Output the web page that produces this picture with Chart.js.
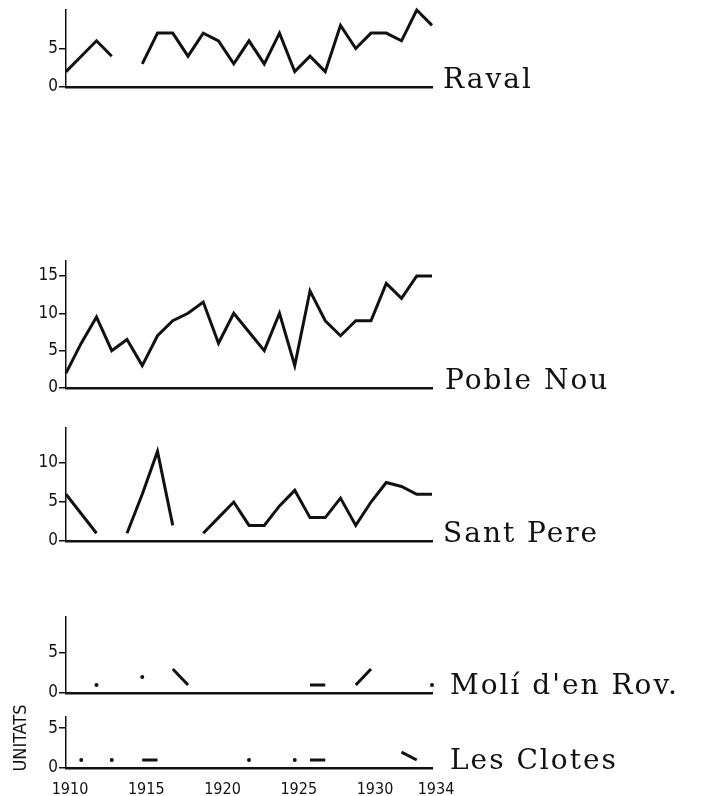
<!DOCTYPE html>
<html>
<head>
<meta charset="utf-8">
<script src="https://cdn.jsdelivr.net/npm/chart.js@4.4.1/dist/chart.umd.min.js"></script>
<style>
  body { margin: 0; background: #fff; width: 705px; height: 796px; position: relative; overflow: hidden; }
  canvas { position: absolute; left: 0; }
</style>
</head>
<body>
<canvas id="raval"></canvas>
<canvas id="poble"></canvas>
<canvas id="sant"></canvas>
<canvas id="moli"></canvas>
<canvas id="clotes"></canvas>
<script>
// yearly counts per district, 1910-1934 (null = no data)
var years = [1910, 1911, 1912, 1913, 1914, 1915, 1916, 1917, 1918, 1919, 1920, 1921, 1922,
             1923, 1924, 1925, 1926, 1927, 1928, 1929, 1930, 1931, 1932, 1933, 1934];

var raval    = [2, 4, 6, 4, null, 3, 7, 7, 4, 7, 6, 3, 6, 3, 7, 2, 4, 2, 8, 5, 7, 7, 6, 10, 8];
var pobleNou = [2, 6, 9.5, 5, 6.5, 3, 7, 9, 10, 11.5, 6, 10, 7.5, 5, 10, 3, 13, 9, 7, 9, 9, 14, 12, 15, 15];
var santPere = [6, 3.5, 1, null, 1, 6, 11.5, 2, null, 1, 3, 5, 2, 2, 4.5, 6.5, 3, 3, 5.5, 2, 5, 7.5, 7, 6, 6];
var moli     = [null, null, 1, null, null, 2, null, 3, 1, null, null, null, null, null, null, null,
                1, 1, null, 1, 3, null, null, null, 1];
// Les Clotes: runs of years drawn as lines, single years drawn as dots
var clotes     = [null, null, null, null, null, 1, 1, null, null, null, null, null, null, null, null, null,
                  1, 1, null, null, null, null, 2, 1, null];
var clotesDots = [null, 1, null, 1, null, null, null, null, null, null, null, null, 1, null, null, 1,
                  null, null, null, null, null, null, null, null, null];

var yearTicks   = [1910, 1915, 1920, 1925, 1930, 1934];
var ravalTicks  = [0, 5];
var pobleTicks  = [0, 5, 10, 15];
var santTicks   = [0, 5, 10];
var moliTicks   = [0, 5];
var clotesTicks = [0, 5];

var axisFont = "'Liberation Sans Narrow', 'DejaVu Sans Condensed', sans-serif";

// district name written at the end of each baseline
var nameLabel = {
  id: 'nameLabel',
  afterDraw: function(chart, args, opts) {
    var ctx = chart.ctx, a = chart.chartArea;
    ctx.save();
    ctx.font = '28px "DejaVu Serif"';
    ctx.letterSpacing = '2px';
    ctx.fillStyle = '#111';
    ctx.textBaseline = 'alphabetic';
    ctx.fillText(opts.text, opts.x, a.bottom + 1);
    if (opts.side) {
      ctx.font = '18px ' + axisFont;
      ctx.letterSpacing = '0px';
      ctx.translate(21, opts.sideY - chart.canvas.offsetTop);
      ctx.rotate(-Math.PI / 2);
      ctx.textAlign = 'center';
      ctx.textBaseline = 'middle';
      ctx.fillText(opts.side, 0, 0);
    }
    ctx.restore();
  }
};

function toPoints(values) {
  return values.map(function(v, i) { return { x: years[i], y: v }; });
}

function panel(id, p) {
  var padTop = p.padTop || 12, padBottom = p.last ? 0 : 12, xHeight = p.last ? 28 : 0;
  var canvas = document.getElementById(id);
  var h = (p.bottom - p.top) + padTop + padBottom + xHeight;
  canvas.width = 705;
  canvas.height = h;
  canvas.style.top = (p.top - padTop) + 'px';

  var values = p.values;
  var datasets = [{
    data: toPoints(values),
    borderColor: '#111',
    borderWidth: 3,
    backgroundColor: '#111',
    spanGaps: false,
    clip: false,
    pointBorderWidth: 0,
    pointRadius: function(ctx) {
      var i = ctx.dataIndex;
      return values[i] != null && values[i - 1] == null && values[i + 1] == null ? 2 : 0;
    }
  }];
  if (p.dots) {
    datasets.push({
      data: toPoints(p.dots),
      showLine: false,
      backgroundColor: '#111',
      pointBorderWidth: 0,
      pointRadius: 2,
      clip: false
    });
  }

  new Chart(canvas, {
    type: 'line',
    data: { datasets: datasets },
    options: {
      responsive: false,
      animation: false,
      events: [],
      layout: { padding: { top: padTop, bottom: padBottom, left: 0, right: 705 - 432 } },
      plugins: {
        legend: { display: false },
        tooltip: { enabled: false },
        nameLabel: { text: p.name, x: p.nameX, side: p.side, sideY: p.sideY }
      },
      scales: {
        x: {
          type: 'linear',
          min: 1910,
          max: 1934,
          afterFit: function(s) { s.height = xHeight; },
          afterBuildTicks: function(s) {
            s.ticks = yearTicks.map(function(v) { return { value: v }; });
          },
          grid: { display: false },
          border: { display: true, color: '#111', width: 2.5 },
          ticks: {
            display: !!p.last,
            color: '#111',
            padding: 4,
            labelOffset: 4,
            maxRotation: 0,
            autoSkip: false,
            font: { family: axisFont, size: 16 },
            callback: function(v) { return String(v); }
          }
        },
        y: {
          min: 0,
          max: p.max,
          afterFit: function(s) { s.width = 66; },
          afterBuildTicks: function(s) {
            s.ticks = p.ticks.map(function(v) { return { value: v }; });
          },
          grid: { display: true, drawOnChartArea: false, drawTicks: true, tickLength: 7, color: '#111', lineWidth: 1.5 },
          border: { display: true, color: '#111', width: 1.5 },
          ticks: {
            color: '#111',
            padding: 1,
            font: { family: axisFont, size: 17 }
          }
        }
      }
    },
    plugins: [nameLabel]
  });
}

panel('raval',  { top: 10,  bottom: 87,  max: 10,   ticks: ravalTicks,  values: raval,    name: 'Raval',          nameX: 443 });
panel('poble',  { top: 261, bottom: 388, max: 17,   ticks: pobleTicks,  values: pobleNou, name: 'Poble Nou',      nameX: 445 });
panel('sant',   { top: 428, bottom: 541, max: 14.5, ticks: santTicks,   values: santPere, name: 'Sant Pere',      nameX: 443 });
panel('moli',   { top: 617, bottom: 693, max: 9.5,  ticks: moliTicks,   values: moli,     name: "Molí d'en Rov.", nameX: 450 });
panel('clotes', { top: 717, bottom: 768, max: 6.4,  ticks: clotesTicks, values: clotes,   name: 'Les Clotes',     nameX: 450,
                  dots: clotesDots, last: true, padTop: 30, side: 'UNITATS', sideY: 738 });
</script>
</body>
</html>
